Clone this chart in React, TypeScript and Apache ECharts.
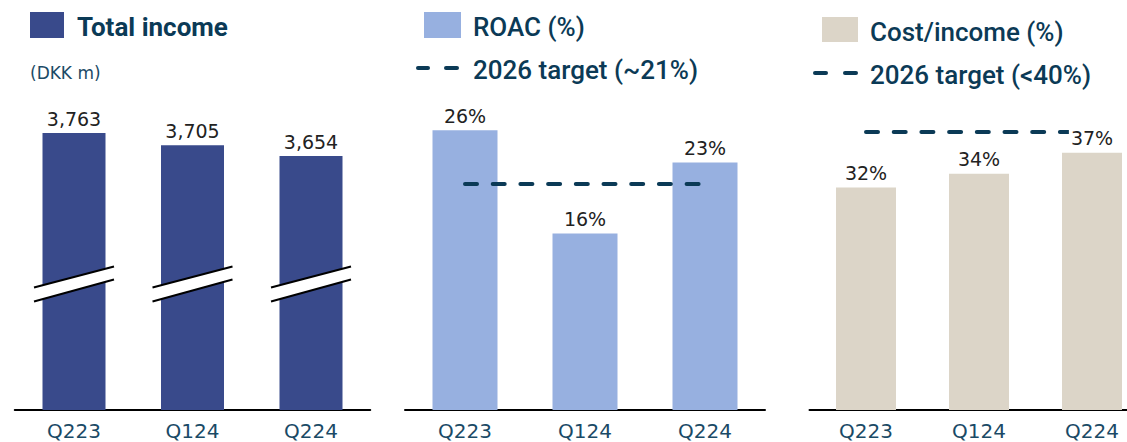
import React, { useEffect, useRef } from "react";
import * as echarts from "echarts";

const categories = ["Q223", "Q124", "Q224"];
const totalIncome = [3763, 3705, 3654];
const roac = [26, 16.4, 23];
const roacTarget = [21, 21, 21];
const costIncome = [32, 34, 37];
const costTarget = [40, 40, 40];
const BREAK_AT = 3050;

const DARK = "#0b3a56";
const TITLE_FONT = "Roboto";
const NUM_FONT = "DejaVu Sans";

export default function App() {
  const ref = useRef<HTMLDivElement>(null);
  useEffect(() => {
    document.body.style.margin = "0";
    if (!ref.current) return;
    const chart = echarts.init(ref.current, undefined, { renderer: "svg" });

    const xAxisBase = (gridIndex: number) => ({
      type: "category",
      gridIndex,
      data: categories,
      axisLine: { lineStyle: { color: "#000", width: 2 } },
      axisTick: { show: false },
      axisLabel: { fontFamily: NUM_FONT, fontSize: 20, lineHeight: 20, color: "#1a4a66", margin: 11 },
    });
    const yAxisBase = (gridIndex: number, min: number, max: number) => ({
      type: "value",
      gridIndex,
      min,
      max,
      show: false,
      splitLine: { show: false },
    });
    const valueLabel = (fmt: (v: number) => string, extra: any = {}) => ({
      show: true,
      position: "top",
      distance: 5,
      fontFamily: NUM_FONT,
      fontSize: 19,
      color: "#222",
      formatter: (p: any) => fmt(p.value),
      ...extra,
    });
    const dashStyle = { color: DARK, width: 4, type: [12, 15.7], cap: "round" };

    const titleStyle = (weight: any) => ({
      font: `${weight} 26px ${TITLE_FONT}`,
      fill: DARK,
      verticalAlign: "middle",
    });

    chart.setOption({
      animation: false,
      grid: [
        { left: 14.75, width: 355.5, top: 100, height: 310, outerBoundsMode: "none", containLabel: false },
        { left: 405, width: 360, top: 100, height: 310, outerBoundsMode: "none", containLabel: false },
        { left: 809.5, width: 339, top: 100, height: 310, outerBoundsMode: "none", containLabel: false },
      ],
      xAxis: [xAxisBase(0), xAxisBase(1), xAxisBase(2)],
      yAxis: [yAxisBase(0, 2450, 3920), yAxisBase(1, 0, 28.8), yAxisBase(2, 0, 44.6)],
      series: [
        {
          type: "bar",
          name: "Total income",
          xAxisIndex: 0,
          yAxisIndex: 0,
          data: totalIncome,
          barWidth: 63,
          itemStyle: { color: "#394a8b" },
          label: valueLabel((v) => v.toLocaleString("en-US")),
          z: 2,
        },
        {
          type: "custom",
          name: "axis break",
          xAxisIndex: 0,
          yAxisIndex: 0,
          z: 5,
          silent: true,
          data: categories.map((_, i) => [i, BREAK_AT]),
          renderItem: (_params: any, api: any) => {
            const p = api.coord([api.value(0), api.value(1)]);
            const cx = p[0];
            const cy = p[1];
            const hw = 40;
            const uL = [cx - hw, cy + 4];
            const uR = [cx + hw, cy - 17];
            const lL = [cx - hw, cy + 18];
            const lR = [cx + hw, cy - 4];
            return {
              type: "group",
              children: [
                { type: "polygon", shape: { points: [uL, uR, lR, lL] }, style: { fill: "#fff" } },
                { type: "line", shape: { x1: uL[0], y1: uL[1], x2: uR[0], y2: uR[1] }, style: { stroke: "#000", lineWidth: 2 } },
                { type: "line", shape: { x1: lL[0], y1: lL[1], x2: lR[0], y2: lR[1] }, style: { stroke: "#000", lineWidth: 2 } },
              ],
            };
          },
        },
        {
          type: "bar",
          name: "ROAC (%)",
          xAxisIndex: 1,
          yAxisIndex: 1,
          data: roac,
          barWidth: 65,
          itemStyle: { color: "#97b0e0" },
          label: valueLabel((v) => Math.round(v) + "%"),
          z: 2,
        },
        {
          type: "line",
          name: "2026 target (~21%)",
          xAxisIndex: 1,
          yAxisIndex: 1,
          data: roacTarget,
          symbol: "none",
          lineStyle: dashStyle,
          z: 3,
        },
        {
          type: "bar",
          name: "Cost/income (%)",
          xAxisIndex: 2,
          yAxisIndex: 2,
          data: costIncome,
          barWidth: 60,
          itemStyle: { color: "#dcd5c8" },
          label: valueLabel((v) => Math.round(v) + "%", { backgroundColor: "#fff", padding: [0, 2] }),
          z: 3,
        },
        {
          type: "line",
          name: "2026 target (<40%)",
          xAxisIndex: 2,
          yAxisIndex: 2,
          data: costTarget,
          symbol: "none",
          lineStyle: dashStyle,
          z: 2,
        },
      ],
      graphic: [
        { type: "rect", shape: { x: 30, y: 12, width: 34, height: 26 }, style: { fill: "#394a8b" } },
        { type: "text", x: 77, y: 27, style: { text: "Total income", ...titleStyle(700) } },
        { type: "text", x: 30, y: 73, style: { text: "(DKK m)", font: `17px ${NUM_FONT}`, fill: "#1b4a66", verticalAlign: "middle" } },

        { type: "rect", shape: { x: 424, y: 12, width: 37, height: 26 }, style: { fill: "#97b0e0" } },
        { type: "text", x: 473, y: 27, style: { text: "ROAC (%)", ...titleStyle(500) } },
        { type: "line", shape: { x1: 418, y1: 68, x2: 428, y2: 68 }, style: { stroke: DARK, lineWidth: 4, lineCap: "round" } },
        { type: "line", shape: { x1: 446, y1: 68, x2: 457, y2: 68 }, style: { stroke: DARK, lineWidth: 4, lineCap: "round" } },
        { type: "text", x: 473, y: 70, style: { text: "2026 target (~21%)", ...titleStyle(500) } },

        { type: "rect", shape: { x: 822, y: 17, width: 36, height: 25 }, style: { fill: "#dcd5c8" } },
        { type: "text", x: 870, y: 32, style: { text: "Cost/income (%)", ...titleStyle(500) } },
        { type: "line", shape: { x1: 815, y1: 73, x2: 826, y2: 73 }, style: { stroke: DARK, lineWidth: 4, lineCap: "round" } },
        { type: "line", shape: { x1: 845, y1: 73, x2: 856, y2: 73 }, style: { stroke: DARK, lineWidth: 4, lineCap: "round" } },
        { type: "text", x: 870, y: 75, style: { text: "2026 target (<40%)", ...titleStyle(500) } },
      ],
    });
    return () => chart.dispose();
  }, []);
  return <div ref={ref} style={{ width: 1127, height: 442 }} />;
}
